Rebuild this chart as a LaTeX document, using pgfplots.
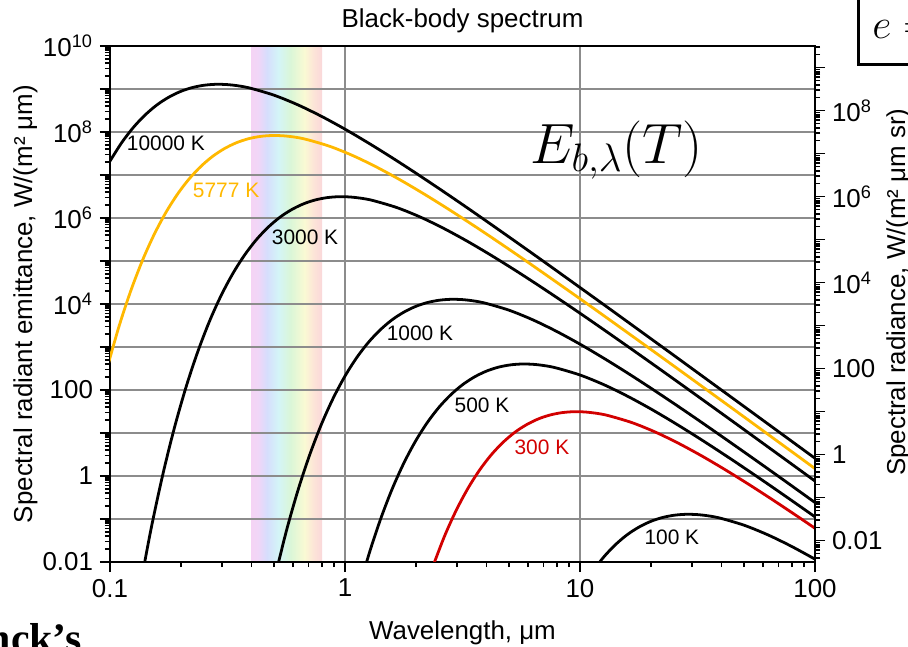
\documentclass[border=0pt]{standalone}
\usepackage{fix-cm}
\usepackage{fontspec}
\setmainfont{Liberation Sans}
\newfontfamily\serifface{Liberation Serif}
\usepackage{pgfplots}
\pgfplotsset{compat=1.18}

\definecolor{sunorange}{RGB}{255,184,0}
\definecolor{coolred}{RGB}{210,0,0}
\definecolor{gridgray}{RGB}{140,140,140}

% pastel band of the visible range, 0.4--0.8 um (violet to red)
\pgfdeclarehorizontalshading{visible}{100bp}{%
  rgb(0bp)=(0.96,0.83,0.96);%
  rgb(25bp)=(0.96,0.83,0.96);%
  rgb(30bp)=(0.94,0.84,0.97);%
  rgb(36bp)=(0.84,0.87,0.99);%
  rgb(44bp)=(0.83,0.96,0.97);%
  rgb(52.5bp)=(0.855,0.965,0.845);%
  rgb(62.5bp)=(0.98,0.98,0.83);%
  rgb(69bp)=(0.99,0.895,0.845);%
  rgb(75bp)=(0.98,0.845,0.855);%
  rgb(100bp)=(0.98,0.845,0.855)}

\newcommand\lab{\fontsize{13}{15.6}\selectfont}
\newcommand\clab{\fontsize{10.5}{12.6}\selectfont}

% log10 positions of the minor ticks (2..9 in every decade)
\newcommand\xminors{-0.699,-0.523,-0.398,-0.301,-0.222,-0.155,-0.097,-0.046,
 0.301,0.477,0.602,0.699,0.778,0.845,0.903,0.954,
 1.301,1.477,1.602,1.699,1.778,1.845,1.903,1.954}
\newcommand\yminors{-2.699,-2.523,-2.398,-2.301,-2.222,-2.155,-2.097,-2.046,
 -1.699,-1.523,-1.398,-1.301,-1.222,-1.155,-1.097,-1.046,
 -0.699,-0.523,-0.398,-0.301,-0.222,-0.155,-0.097,-0.046,
 0.301,0.477,0.602,0.699,0.778,0.845,0.903,0.954,
 1.301,1.477,1.602,1.699,1.778,1.845,1.903,1.954,
 2.301,2.477,2.602,2.699,2.778,2.845,2.903,2.954,
 3.301,3.477,3.602,3.699,3.778,3.845,3.903,3.954,
 4.301,4.477,4.602,4.699,4.778,4.845,4.903,4.954,
 5.301,5.477,5.602,5.699,5.778,5.845,5.903,5.954,
 6.301,6.477,6.602,6.699,6.778,6.845,6.903,6.954,
 7.301,7.477,7.602,7.699,7.778,7.845,7.903,7.954,
 8.301,8.477,8.602,8.699,8.778,8.845,8.903,8.954,
 9.301,9.477,9.602,9.699,9.778,9.845,9.903,9.954}

\pgfplotsset{
  spectrumaxis/.style={
    at={(0,0)}, anchor=south west, scale only axis,
    width=352.5bp, height=258bp,
    tick align=outside,
    major tick length=5bp, minor tick length=2.6bp,
    every tick/.style={black, line width=0.8pt},
    ticklabel style={font=\lab},
  },
  planck/.style={smooth, line width=1.4pt, no markers},
}

\begin{document}
\begin{tikzpicture}
% coordinates: log10 of wavelength in um, log10 of emittance in W/(m^2 um)
\begin{axis}[
  spectrumaxis,
  xmin=-1, xmax=2, ymin=-2, ymax=10,
  set layers,
  axis line style={line width=1.4pt},
  tick pos=left,
  xtick={-1,0,1,2}, xticklabels={0.1,1,10,100},
  minor xtick/.expand once=\xminors,
  ytick={-2,...,10},
  yticklabels={0.01,{},1,{},100,{},10\textsuperscript{4},{},10\textsuperscript{6},{},10\textsuperscript{8},{},10\textsuperscript{10}},
  minor ytick/.expand once=\yminors,
  grid=major, grid style={gridgray, line width=0.7pt},
  title={Black-body spectrum},
  title style={font=\lab, at={(axis description cs:0.5,1)}, anchor=base, yshift=3.5bp},
  xlabel={Wavelength, μm},
  xlabel style={font=\lab, at={(axis description cs:0.5,0)}, anchor=base, yshift=-38.5bp},
  ylabel={Spectral radiant emittance, W/(m² μm)},
  ylabel style={font=\lab, at={(axis description cs:-0.1106,0.5)}, anchor=base},
]
% visible range
\addplot[on layer=axis background, draw=none, shading=visible]
  coordinates {(-0.39794,-2) (-0.09691,-2) (-0.09691,10) (-0.39794,10) (-0.39794,-2)};

% 10000 K
\addplot[planck, black] coordinates {
(-1.00,7.324) (-0.95,7.754) (-0.90,8.110) (-0.85,8.399) (-0.80,8.631) (-0.75,8.809)
(-0.70,8.942) (-0.65,9.033) (-0.60,9.087) (-0.55,9.109) (-0.50,9.102) (-0.45,9.070)
(-0.40,9.015) (-0.30,8.852) (-0.20,8.630) (-0.10,8.364) (0.00,8.066) (0.10,7.743)
(0.20,7.403) (0.30,7.049) (0.40,6.685) (0.50,6.313) (0.60,5.934) (0.70,5.551)
(0.80,5.165) (0.90,4.775) (1.00,4.383) (1.10,3.990) (1.20,3.595) (1.30,3.199)
(1.40,2.803) (1.50,2.405) (1.60,2.007) (1.70,1.609) (1.80,1.210) (1.90,0.811) (2.00,0.412)};

% 5777 K
\addplot[planck, sunorange] coordinates {
(-1.0117,2.520) (-0.9617,3.479) (-0.9117,4.305) (-0.8617,5.016) (-0.8117,5.621)
(-0.7617,6.133) (-0.7117,6.563) (-0.6617,6.919) (-0.6117,7.208) (-0.5617,7.440)
(-0.5117,7.618) (-0.4617,7.751) (-0.4117,7.842) (-0.3617,7.896) (-0.3117,7.918)
(-0.2617,7.911) (-0.2117,7.879) (-0.1617,7.824) (-0.0617,7.661) (0.0383,7.439)
(0.1383,7.173) (0.2383,6.875) (0.3383,6.552) (0.4383,6.212) (0.5383,5.858)
(0.6383,5.494) (0.7383,5.122) (0.8383,4.743) (0.9383,4.360) (1.0383,3.974)
(1.1383,3.584) (1.2383,3.192) (1.3383,2.799) (1.4383,2.404) (1.5383,2.008)
(1.6383,1.612) (1.7383,1.214) (1.8383,0.816) (1.9383,0.418) (2.0383,0.019)};

% 3000 K
\addplot[planck, black] coordinates {
(-0.8771,-2.737) (-0.8271,-1.280) (-0.7771,-0.009) (-0.7271,1.097) (-0.6771,2.056)
(-0.6271,2.882) (-0.5771,3.593) (-0.5271,4.198) (-0.4771,4.710) (-0.4271,5.140)
(-0.3771,5.496) (-0.3271,5.785) (-0.2771,6.017) (-0.2271,6.195) (-0.1771,6.328)
(-0.1271,6.419) (-0.0771,6.473) (-0.0271,6.495) (0.0229,6.488) (0.0729,6.456)
(0.1229,6.401) (0.2229,6.238) (0.3229,6.016) (0.4229,5.750) (0.5229,5.452)
(0.6229,5.129) (0.7229,4.789) (0.8229,4.435) (0.9229,4.071) (1.0229,3.699)
(1.1229,3.320) (1.2229,2.937) (1.3229,2.551) (1.4229,2.161) (1.5229,1.769)
(1.6229,1.376) (1.7229,0.981) (1.8229,0.585) (1.9229,0.189) (2.0229,-0.209)};

% 1000 K
\addplot[planck, black] coordinates {
(-0.30,-2.395) (-0.25,-1.289) (-0.20,-0.330) (-0.15,0.496) (-0.10,1.207) (-0.05,1.812)
(0.00,2.324) (0.05,2.754) (0.10,3.110) (0.15,3.399) (0.20,3.631) (0.25,3.809)
(0.30,3.942) (0.35,4.033) (0.40,4.087) (0.45,4.109) (0.50,4.102) (0.55,4.070)
(0.60,4.015) (0.70,3.852) (0.80,3.630) (0.90,3.364) (1.00,3.066) (1.10,2.743)
(1.20,2.403) (1.30,2.049) (1.40,1.685) (1.50,1.313) (1.60,0.934) (1.70,0.551)
(1.80,0.165) (1.90,-0.225) (2.00,-0.617)};

% 500 K
\addplot[planck, black] coordinates {
(0.0510,-2.794) (0.1010,-1.835) (0.1510,-1.009) (0.2010,-0.298) (0.2510,0.307)
(0.3010,0.819) (0.3510,1.249) (0.4010,1.605) (0.4510,1.894) (0.5010,2.126)
(0.5510,2.304) (0.6010,2.437) (0.6510,2.528) (0.7010,2.582) (0.7510,2.604)
(0.8010,2.597) (0.8510,2.565) (0.9010,2.510) (1.0010,2.347) (1.1010,2.125)
(1.2010,1.859) (1.3010,1.561) (1.4010,1.238) (1.5010,0.898) (1.6010,0.544)
(1.7010,0.180) (1.8010,-0.192) (1.9010,-0.571) (2.0010,-0.954)};

% 300 K
\addplot[planck, coolred] coordinates {
(0.3729,-2.118) (0.4229,-1.407) (0.4729,-0.802) (0.5229,-0.290) (0.5729,0.140)
(0.6229,0.496) (0.6729,0.785) (0.7229,1.017) (0.7729,1.195) (0.8229,1.328)
(0.8729,1.419) (0.9229,1.473) (0.9729,1.495) (1.0229,1.488) (1.0729,1.456)
(1.1229,1.401) (1.2229,1.238) (1.3229,1.016) (1.4229,0.750) (1.5229,0.452)
(1.6229,0.129) (1.7229,-0.211) (1.8229,-0.565) (1.9229,-0.929) (2.0229,-1.301)};

% 100 K
\addplot[planck, black] coordinates {
(1.05,-2.246) (1.10,-1.890) (1.15,-1.601) (1.20,-1.369) (1.25,-1.191) (1.30,-1.058)
(1.35,-0.967) (1.40,-0.913) (1.45,-0.891) (1.50,-0.898) (1.55,-0.930) (1.60,-0.985)
(1.70,-1.148) (1.80,-1.370) (1.90,-1.636) (2.00,-1.934)};

% temperature labels
\node[font=\clab] at (axis cs:-0.762,7.744) {10000 K};
\node[font=\clab, text=sunorange] at (axis cs:-0.506,6.651) {5777 K};
\node[font=\clab] at (axis cs:-0.170,5.558) {3000 K};
\node[font=\clab] at (axis cs:0.319,3.326) {1000 K};
\node[font=\clab] at (axis cs:0.583,1.651) {500 K};
\node[font=\clab, text=coolred] at (axis cs:0.838,0.674) {300 K};
\node[font=\clab] at (axis cs:1.391,-1.419) {100 K};

\node[anchor=base west, inner sep=0pt, font=\fontsize{28.5}{32}\selectfont]
  at (axis cs:0.787,7.279) {$E_{b,\lambda}(T)$};
\end{axis}

% right-hand scale: spectral radiance = emittance / pi
\begin{axis}[
  spectrumaxis,
  xmin=-1, xmax=2, ymin=-2.49715, ymax=9.50285,
  hide x axis, axis y line*=right,
  axis line style={-, line width=1.4pt},
  ytick={-2,...,9},
  yticklabels={0.01,{},1,{},100,{},10\textsuperscript{4},{},10\textsuperscript{6},{},10\textsuperscript{8},{}},
  minor ytick/.expand once=\yminors,
  ylabel={Spectral radiance, W/(m² μm sr)},
  ylabel style={font=\lab, at={(axis description cs:1.1277,0.523)}, anchor=base},
]
\end{axis}

\draw[line width=1.5bp] (374bp,300bp) -- (374bp,248.5bp) -- (420bp,248.5bp);
\node[anchor=base west, inner sep=0pt, font=\fontsize{21}{25}\selectfont]
  at (381bp,261.5bp) {$e =$};
\node[anchor=base east, inner sep=0pt, font=\serifface\bfseries\fontsize{21}{25}\selectfont]
  at (-14bp,-45bp) {Planck’s};

\pgfresetboundingbox
\useasboundingbox (-55bp,-42.5bp) rectangle (399bp,281bp);
\end{tikzpicture}
\end{document}
